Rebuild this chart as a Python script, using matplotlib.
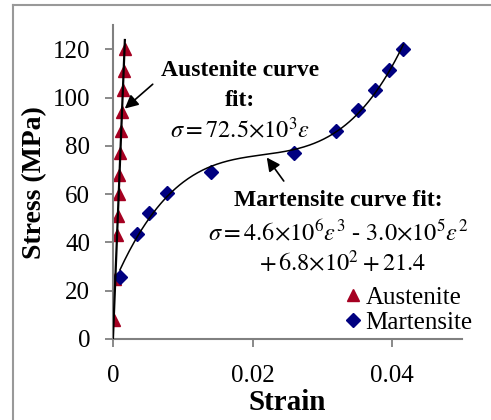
import numpy as np
import matplotlib
matplotlib.use("Agg")
import matplotlib.pyplot as plt
from matplotlib.lines import Line2D

plt.rcParams["font.family"] = ["Liberation Serif", "DejaVu Serif"]
plt.rcParams["mathtext.fontset"] = "stix"
plt.rcParams["font.size"] = 18

# Data
aus_strain = [0.00011, 0.00034, 0.00059, 0.00070, 0.00083, 0.00094,
              0.00106, 0.00119, 0.00130, 0.00142, 0.00153, 0.00166]
aus_stress = [8, 25, 43, 51, 60, 68, 77, 86, 94, 103, 111, 120]

mar_strain = [0.0010, 0.0034, 0.0051, 0.0078, 0.0141, 0.0260,
              0.0319, 0.0351, 0.0376, 0.0396, 0.0416]
mar_stress = [25.7, 43.3, 52, 60.6, 69, 77.2, 86.2, 94.7, 103, 111.6, 120.3]

x_ticks = [0, 0.02, 0.04]
x_tick_labels = ["0", "0.02", "0.04"]
y_ticks = [0, 20, 40, 60, 80, 100, 120]

# Trendlines (linear through origin, cubic)
xa = np.array(aus_strain)
ya = np.array(aus_stress)
slope = np.sum(xa * ya) / np.sum(xa * xa)
xa_fit = np.linspace(0, xa.max() * 1.03, 20)

xm = np.array(mar_strain)
coef = np.polyfit(xm, np.array(mar_stress), 3)
xm_fit = np.linspace(xm.min(), xm.max(), 300)

fig = plt.figure(figsize=(4.91, 4.2), dpi=100)
ax = fig.add_axes([0.230, 0.193, 0.711, 0.747])

grey = "#808080"
ax.plot(xa_fit, slope * xa_fit, color="black", lw=1.6, zorder=3)
ax.plot(xm_fit, np.polyval(coef, xm_fit), color="black", lw=1.1, zorder=3)
ax.plot(aus_strain, aus_stress, linestyle="none", marker="^", ms=9,
        color="#A50021", zorder=2, label="Austenite")
ax.plot(mar_strain, mar_stress, linestyle="none", marker="D", ms=7,
        color="#000080", zorder=2, label="Martensite")

ax.set_xlim(0, 0.05)
ax.set_ylim(0, 130)
ax.set_xticks(x_ticks)
ax.set_xticklabels(x_tick_labels)
ax.set_yticks(y_ticks)
for s in ["top", "right"]:
    ax.spines[s].set_visible(False)
for s in ["left", "bottom"]:
    ax.spines[s].set_color(grey)
    ax.spines[s].set_linewidth(1.5)
ax.tick_params(axis="both", direction="out", length=5.5, width=1.3, color=grey,
               labelsize=18)
ax.tick_params(axis="x", pad=13)
ax.tick_params(axis="y", pad=11)
ax.set_xlabel("Strain", fontweight="bold", fontsize=21, labelpad=2)
ax.set_ylabel("Stress (MPa)", fontweight="bold", fontsize=20, labelpad=4)

# Annotations
ax.annotate("", xy=(0.0014, 94.7), xytext=(0.0060, 106.3),
            arrowprops=dict(arrowstyle="-|>", color="black", lw=1.2,
                            mutation_scale=20))
ax.text(0.0182, 111.3, "Austenite curve", ha="center", va="center",
        fontweight="bold", fontsize=17)
ax.text(0.0182, 98.9, "fit:", ha="center", va="center",
        fontweight="bold", fontsize=17)
ax.text(0.0182, 86.5, r"$\sigma = 72.5{\times}10^3\varepsilon$", ha="center",
        va="center", fontsize=17.5)

ax.annotate("", xy=(0.0218, 76.1), xytext=(0.0247, 64.5),
            arrowprops=dict(arrowstyle="-|>", color="black", lw=1.2,
                            mutation_scale=20))
ax.text(0.0323, 57.5, "Martensite curve fit:", ha="center", va="center",
        fontweight="bold", fontsize=17)
ax.text(0.0322, 43.9,
        r"$\sigma = 4.6{\times}10^6\varepsilon^3$ - $3.0{\times}10^5\varepsilon^2$",
        ha="center", va="center", fontsize=17.5)
ax.text(0.0329, 31.4, r"$+\,6.8{\times}10^2 + 21.4$", ha="center", va="center",
        fontsize=17.5)

ax.legend(loc="lower right", bbox_to_anchor=(1.03, 0.015), frameon=False,
          handlelength=0.6, handletextpad=0.2, labelspacing=0.1,
          borderpad=0, borderaxespad=0, fontsize=18)

# Chart-area border (left and top edges visible)
fig.add_artist(Line2D([13 / 491, 13 / 491], [0, 1 - 5 / 420],
                      transform=fig.transFigure, color="#999999", lw=1.5))
fig.add_artist(Line2D([13 / 491, 1], [1 - 5 / 420, 1 - 5 / 420],
                      transform=fig.transFigure, color="#999999", lw=1.5))

fig.savefig("out.png", dpi=100)
